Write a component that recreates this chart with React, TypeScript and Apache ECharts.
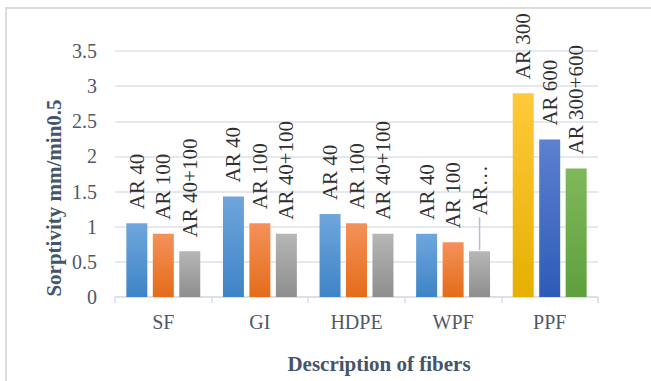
import React, { useEffect, useRef } from "react";
import * as echarts from "echarts";

const categories = ["SF", "GI", "HDPE", "WPF", "PPF"];
const series1Values = [1.05, 1.43, 1.18, 0.9, 2.9];
const series2Values = [0.9, 1.05, 1.05, 0.78, 2.24];
const series3Values = [0.65, 0.9, 0.9, 0.65, 1.83];
const series1Labels = ["AR 40", "AR 40", "AR 40", "AR 40", "AR 300"];
const series2Labels = ["AR 100", "AR 100", "AR 100", "AR 100", "AR 600"];
const series3Labels = ["AR 40+100", "AR 40+100", "AR 40+100", "AR…", "AR 300+600"];
const yTicks = { min: 0, max: 3.5, interval: 0.5 };
const yAxisTitle = "Sorptivity mm/min0.5";
const xAxisTitle = "Description of fibers";

const grad = (top: string, bottom: string) =>
  new echarts.graphic.LinearGradient(0, 0, 0, 1, [
    { offset: 0, color: top },
    { offset: 1, color: bottom },
  ]);

const palettes = [
  { normal: ["#6fa6dc", "#3e84c6"], ppf: ["#ffc93c", "#e5b000"] },
  { normal: ["#f4915a", "#e46c1a"], ppf: ["#5d80cf", "#2e5bb8"] },
  { normal: ["#b6b6b6", "#8e8e8e"], ppf: ["#80b85c", "#5ea03c"] },
];

const serif = "'Liberation Serif', 'Times New Roman', serif";

export default function App() {
  const ref = useRef<HTMLDivElement>(null);
  useEffect(() => {
    document.body.style.margin = "0";
    const chart = echarts.init(ref.current!, null, { renderer: "svg" });
    const vals = [series1Values, series2Values, series3Values];
    const labs = [series1Labels, series2Labels, series3Labels];
    const series = vals.map((v, si) => ({
      type: "bar",
      barWidth: 21,
      barGap: "26%",
      data: v.map((val, i) => {
        const isPPF = categories[i] === "PPF";
        const pal = isPPF ? palettes[si].ppf : palettes[si].normal;
        const item: any = {
          value: val,
          itemStyle: { color: grad(pal[0], pal[1]) },
        };
        if (labs[si][i] === "AR…") {
          item.label = {
            distance: 1,
            formatter: "{ln|}{t|" + labs[si][i] + "}",
            rich: {
              ln: {
                width: 33,
                height: 1.5,
                backgroundColor: "#b3bfd2",
                verticalAlign: "middle",
              },
              t: {
                fontFamily: serif,
                fontSize: 21,
                color: "#303030",
                verticalAlign: "middle",
                padding: [0, 0, 0, 2],
              },
            },
          };
        }
        return item;
      }),
      label: {
        show: true,
        position: "top",
        rotate: 90,
        align: "left",
        verticalAlign: "middle",
        distance: 14,
        fontFamily: serif,
        fontSize: 21,
        color: "#303030",
        formatter: (p: any) => labs[si][p.dataIndex],
      },
    }));
    chart.setOption({
      animation: false,
      backgroundColor: "#ffffff",
      grid: { left: 115, right: 53, top: 51, bottom: 84 },
      xAxis: {
        type: "category",
        data: categories,
        axisLine: { lineStyle: { color: "#d9dee6", width: 1.5 } },
        axisTick: { show: true, length: 6, lineStyle: { color: "#d9dee6", width: 1.5 } },
        axisLabel: {
          fontFamily: serif,
          fontSize: 20,
          color: "#4f5868",
          margin: 15,
        },
      },
      yAxis: {
        type: "value",
        min: yTicks.min,
        max: yTicks.max,
        interval: yTicks.interval,
        axisLine: { show: false },
        axisTick: { show: false },
        splitLine: { lineStyle: { color: "#dde2ea", width: 1.5 } },
        axisLabel: {
          fontFamily: serif,
          fontSize: 20,
          color: "#4f5868",
          margin: 18,
          formatter: (v: number) => String(v),
        },
      },
      graphic: [
        {
          type: "rect",
          shape: { x: 6, y: 8, width: 700, height: 420 },
          style: { fill: "none", stroke: "#dcdcdc", lineWidth: 2 },
          silent: true,
        },
        {
          type: "text",
          x: 54,
          y: 198,
          rotation: Math.PI / 2,
          style: {
            text: yAxisTitle,
            fontFamily: serif,
            fontSize: 21,
            fontWeight: "bold",
            fill: "#44546a",
            align: "center",
            verticalAlign: "middle",
          },
        },
        {
          type: "text",
          x: 379,
          y: 364,
          style: {
            text: xAxisTitle,
            fontFamily: serif,
            fontSize: 21,
            fontWeight: "bold",
            fill: "#44546a",
            align: "center",
            verticalAlign: "middle",
          },
        },
      ],
      series,
    });
    return () => chart.dispose();
  }, []);
  return <div ref={ref} style={{ width: 651, height: 381 }} />;
}
